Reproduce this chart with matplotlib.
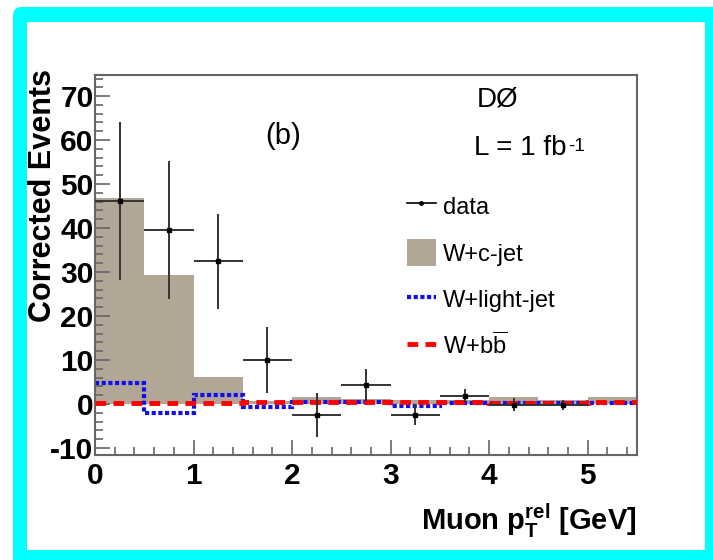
import matplotlib
matplotlib.use("Agg")
import matplotlib.pyplot as plt
import numpy as np
from matplotlib.patches import FancyBboxPatch, Rectangle, Patch
from matplotlib.lines import Line2D
from matplotlib.transforms import IdentityTransform
from matplotlib.ticker import MultipleLocator

plt.rcParams['font.family'] = ['Liberation Sans', 'DejaVu Sans']
plt.rcParams['mathtext.fontset'] = 'custom'
plt.rcParams['mathtext.rm'] = 'Liberation Sans'
plt.rcParams['mathtext.bf'] = 'Liberation Sans:bold'
plt.rcParams['axes.unicode_minus'] = False

# histogram bins (0.5 GeV wide)
edges = [0, 0.5, 1, 1.5, 2, 2.5, 3, 3.5, 4, 4.5, 5, 5.5]
wc_jet = [46.8, 29.4, 6.2, 0.6, 1.7, 1.2, 0.9, 0.9, 1.5, 0.8, 1.5]
w_light = [4.8, -2.0, 2.1, -0.6, 0.4, 0.5, -0.4, 0.3, 0.2, 0.2, 0.3]
w_bb = [0.2, 0.2, 0.2, 0.5, 0.5, 0.5, 0.5, 0.4, 0.3, 0.3, 0.4]

# data points
data_x = [0.25, 0.75, 1.25, 1.75, 2.25, 2.75, 3.25, 3.75, 4.25, 4.75]
data_y = [46.2, 39.6, 32.4, 10.0, -2.6, 4.3, -2.4, 1.9, -0.2, -0.2]
data_err = [18.0, 15.7, 10.8, 7.5, 5.0, 3.7, 2.3, 1.5, 1.5, 1.2]

fig = plt.figure(figsize=(7.13, 5.60), dpi=100)

# cyan frame around the canvas
fig.patches.append(FancyBboxPatch((13, -10), 710, 563, boxstyle="round,pad=0,rounding_size=9",
                                  transform=IdentityTransform(), facecolor="#00ffff",
                                  edgecolor="none", zorder=-2))
fig.patches.append(Rectangle((27, 10), 678, 528, transform=IdentityTransform(),
                             facecolor="white", edgecolor="none", zorder=-1))

ax = fig.add_axes([95/713, 1-455/560, 542/713, 380/560])
tan = "#b2a696"
ax.stairs(wc_jet, edges, fill=True, color=tan, zorder=1)
ax.stairs(w_light, edges, color="#1010ee", linestyle=(0, (1, 0.6)), linewidth=3, zorder=2, baseline=None)
ax.stairs(w_bb, edges, color="#ff0000", linestyle=(0, (2.2, 1.5)), linewidth=3.5, zorder=3, baseline=None)
ax.errorbar(data_x, data_y, yerr=data_err, xerr=0.25, fmt="s", color="black", ecolor="#333333",
            markersize=3.5, elinewidth=1.4, capsize=0, zorder=4)

ax.set_xlim(0, 5.5)
ax.set_ylim(-11.6, 74.8)
ax.xaxis.set_major_locator(MultipleLocator(1))
ax.xaxis.set_minor_locator(MultipleLocator(0.2))
ax.yaxis.set_major_locator(MultipleLocator(10))
ax.yaxis.set_minor_locator(MultipleLocator(2))
ax.tick_params(which="both", direction="in", color="#666666", width=1.2, top=False, right=False)
ax.tick_params(which="major", length=11, labelsize=21.5)
ax.tick_params(axis="y", which="major", pad=1)
ax.tick_params(axis="x", which="major", pad=5)
ax.tick_params(which="minor", length=6)
for lab in ax.get_xticklabels() + ax.get_yticklabels():
    lab.set_fontweight("bold")
for s in ax.spines.values():
    s.set_color("#666666")
    s.set_linewidth(1.5)

ax.set_ylabel("Corrected Events", fontsize=22, fontweight="bold", loc="top")
ax.yaxis.set_label_coords(-0.068, 1.015)
ax.set_xlabel(r"Muon $\mathbf{p}_\mathbf{T}^\mathbf{rel}$ [GeV]", fontsize=21,
              fontweight="bold", loc="right", labelpad=8)

ax.text(3.87, 69.3, "DØ", fontsize=20, va="center")
lum = ax.text(3.85, 58.2, "L = 1 fb", fontsize=20, va="center")
ax.annotate("-1", xy=(1, 1), xycoords=lum, xytext=(1, -2), textcoords="offset points",
            fontsize=13.5, ha="left", va="top")
ax.text(1.73, 60.9, "(b)", fontsize=21, va="center")

handles = [Line2D([], [], color="black", marker="o", markersize=2.5, linewidth=1.2),
           Patch(facecolor=tan, edgecolor="none"),
           Line2D([], [], color="#1010ee", linestyle=(0, (1, 0.6)), linewidth=3),
           Line2D([], [], color="#ff0000", linestyle=(0, (2.2, 1.5)), linewidth=3.5)]
labels = ["data", "W+c-jet", "W+light-jet", r"W+b$\overline{\mathregular{b}}$"]
ax.legend(handles, labels, loc="upper left", bbox_to_anchor=(0.576, 0.69), frameon=False,
          fontsize=17, borderpad=0, borderaxespad=0, handlelength=1.2, handleheight=1.35,
          handletextpad=0.3, labelspacing=0.85)

fig.savefig("out.png", dpi=100)
